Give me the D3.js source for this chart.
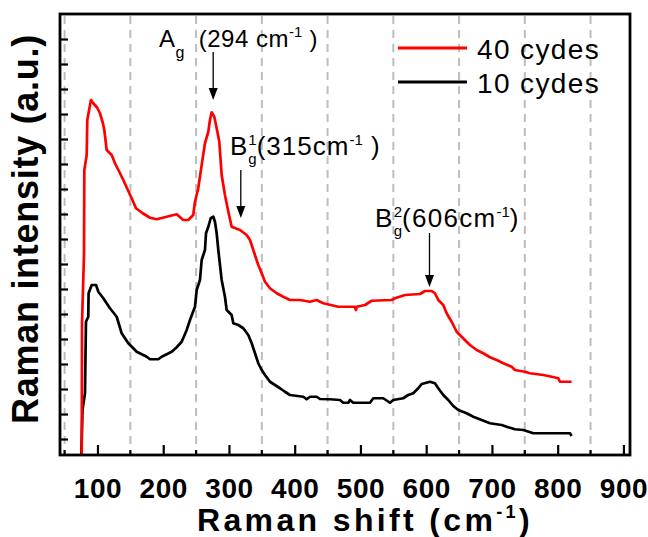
<!DOCTYPE html>
<html>
<head>
<meta charset="utf-8">
<script src="https://cdn.jsdelivr.net/npm/d3@7"></script>
<style>
  body { margin: 0; background: #fff; }
  text { font-family: "Liberation Sans", Arial, sans-serif; }
</style>
</head>
<body>
<svg id="chart" width="648" height="537"></svg>
<script>
// Raman spectra, 40 deposition cycles
const shift40 = [76.0, 76.5, 79.5, 80.0, 83.6, 84.5, 90.1, 93.6, 99.7, 103.8, 107.9, 110.4, 114.0, 121.6, 126.6,
  133.2, 139.3, 146.9, 152.0, 158.6, 168.8, 179.9, 190.1, 205.3, 220.5, 230.5, 238.1, 245.7, 248.3, 253.3,
  258.5, 263.5, 268.6, 271.1, 273.7, 277.7, 281.3, 285.3, 288.9, 293.9, 298.5, 304.1, 316.8, 326.9, 332.0,
  337.0, 344.6, 349.8, 354.8, 362.4, 372.6, 382.6, 392.8, 408.0, 423.2, 433.4, 443.5, 466.3, 491.7, 493.2,
  494.3, 506.9, 517.1, 547.5, 552.5, 567.7, 590.5, 598.1, 608.3, 613.3, 618.4, 626.0, 631.1, 638.7, 646.3,
  653.9, 666.6, 676.8, 686.8, 697.0, 707.2, 717.2, 730.0, 735.0, 750.2, 757.8, 778.1, 790.8, 800.9, 803.5, 821.2];
const int40 = [-0.64, 4.64, 7.36, 10.76, 11.36, 12.76, 13.56, 13.43, 13.25, 13.03, 12.67, 12.36, 11.56, 11.36, 11.03,
  10.69, 10.36, 9.92, 9.63, 9.23, 9.03, 8.85, 8.79, 8.89, 8.99, 8.76, 8.76, 8.96, 9.49, 10.03,
  10.96, 11.83, 12.29, 12.76, 13.07, 12.89, 12.43, 11.89, 10.56, 9.76, 9.16, 8.49, 8.36, 8.16, 7.96,
  7.56, 6.96, 6.63, 6.29, 6.03, 5.83, 5.69, 5.56, 5.56, 5.49, 5.56, 5.43, 5.29, 5.29, 5.16,
  5.29, 5.36, 5.53, 5.56, 5.63, 5.76, 5.80, 5.92, 5.92, 5.83, 5.56, 5.36, 5.03, 4.69, 4.29,
  4.09, 3.76, 3.56, 3.43, 3.27, 3.16, 3.03, 2.89, 2.76, 2.69, 2.63, 2.56, 2.49, 2.43, 2.29, 2.29];

// Raman spectra, 10 deposition cycles
const shift10 = [75.5, 77.2, 81.0, 82.5, 86.0, 86.5, 91.2, 97.8, 101.3, 108.9, 119.0, 129.2, 136.8, 146.9, 159.7,
  174.9, 179.9, 192.5, 197.7, 212.9, 220.5, 228.1, 235.7, 240.7, 248.3, 250.9, 255.9, 258.5, 263.5, 265.1,
  268.6, 272.2, 276.2, 278.7, 281.3, 283.8, 288.9, 293.9, 296.5, 304.1, 306.6, 314.2, 321.8, 329.4, 334.6,
  339.6, 344.6, 349.8, 354.8, 362.4, 370.0, 377.6, 385.2, 392.8, 413.0, 418.2, 423.2, 433.4, 438.4, 453.6,
  468.9, 473.9, 481.5, 484.1, 489.1, 514.5, 519.5, 534.7, 544.9, 549.9, 565.1, 572.7, 580.3, 587.9, 593.1,
  605.7, 613.3, 618.4, 626.0, 633.6, 641.2, 648.8, 661.5, 671.6, 684.4, 697.0, 714.8, 722.4, 735.0, 747.7,
  762.9, 818.7, 821.2];
const int10 = [-0.64, 1.16, 1.83, 4.69, 4.89, 5.83, 6.16, 6.16, 5.89, 5.63, 5.23, 4.89, 4.23, 3.83, 3.49,
  3.29, 3.19, 3.19, 3.29, 3.49, 3.67, 3.89, 4.36, 4.76, 5.29, 5.96, 6.36, 7.16, 7.56, 8.23,
  8.49, 8.83, 8.89, 8.69, 8.23, 7.56, 6.36, 5.69, 5.16, 4.96, 4.63, 4.56, 4.43, 4.16, 3.83,
  3.43, 3.03, 2.76, 2.56, 2.29, 2.16, 2.03, 1.89, 1.76, 1.69, 1.59, 1.69, 1.69, 1.60, 1.59,
  1.56, 1.45, 1.45, 1.56, 1.45, 1.45, 1.63, 1.63, 1.45, 1.56, 1.63, 1.76, 1.83, 2.03, 2.20,
  2.29, 2.23, 2.03, 1.76, 1.56, 1.32, 1.16, 1.03, 0.89, 0.76, 0.63, 0.56, 0.49, 0.39, 0.36,
  0.23, 0.23, 0.12];

const seriesNames = ["40 cydes", "10 cydes"];
const seriesColors = ["#ff0000", "#000000"];

const xMajorTicks = [100, 200, 300, 400, 500, 600, 700, 800, 900];
const xMinorTicks = [50, 150, 250, 350, 450, 550, 650, 750, 850];
const yTicks = d3.range(0, 17);

// Peak annotations: arrow position (shift), arrow top / tip (intensity)
const peakShift = [276, 318, 605];
const peakArrowTop = [15.48, 10.76, 8.24];
const peakArrowTip = [13.56, 8.84, 6.08];

const svg = d3.select("#chart");
const W = 648, H = 537;
const m = { left: 60, right: 18, top: 14, bottom: 82 };

const x = d3.scaleLinear().domain([43, 910]).range([m.left, W - m.right]);
const y = d3.scaleLinear().domain([-0.64, 17]).range([H - m.bottom, m.top]);

const x0 = m.left, x1 = W - m.right, y0 = H - m.bottom, y1 = m.top;

// spread a text's letters so that it spans a given width
function fitWidth(sel, target) {
  const node = sel.node();
  const w = node.getComputedTextLength();
  const n = node.textContent.length;
  sel.attr("letter-spacing", (target - w) / n);
}

// dashed vertical grid
svg.append("g").selectAll("line").data(xMinorTicks).join("line")
  .attr("x1", d => x(d)).attr("x2", d => x(d))
  .attr("y1", y1 + 2).attr("y2", y0)
  .attr("stroke", "#bdbdbd").attr("stroke-width", 2)
  .attr("stroke-dasharray", "8,6");

svg.append("defs").append("clipPath").attr("id", "plotClip")
  .append("rect").attr("x", x0).attr("y", y1).attr("width", x1 - x0).attr("height", y0 - y1);

const line = d3.line().x(d => x(d[0])).y(d => y(d[1]));
const plot = svg.append("g").attr("clip-path", "url(#plotClip)");
plot.append("path").datum(d3.zip(shift10, int10))
  .attr("d", line).attr("fill", "none").attr("stroke", seriesColors[1])
  .attr("stroke-width", 2.7).attr("stroke-linejoin", "round");
plot.append("path").datum(d3.zip(shift40, int40))
  .attr("d", line).attr("fill", "none").attr("stroke", seriesColors[0])
  .attr("stroke-width", 2.7).attr("stroke-linejoin", "round");

// axes with inward ticks
const xAxis = d3.axisBottom(x).tickValues(xMajorTicks).tickSizeInner(-10).tickSizeOuter(0).tickPadding(23);
const gx = svg.append("g").attr("transform", `translate(0,${y0})`).call(xAxis);
gx.select(".domain").remove();
gx.selectAll(".tick line").attr("stroke", "#000").attr("stroke-width", 2.2);
gx.selectAll(".tick text").attr("font-size", 28).attr("font-weight", "bold")
  .attr("font-family", "'Liberation Sans', Arial, sans-serif").attr("fill", "#000")
  .attr("letter-spacing", 0.5);

svg.append("g").selectAll("line").data(xMinorTicks).join("line")
  .attr("x1", d => x(d)).attr("x2", d => x(d))
  .attr("y1", y0).attr("y2", y0 - 5)
  .attr("stroke", "#000").attr("stroke-width", 2.2);

const yAxis = d3.axisLeft(y).tickValues(yTicks).tickSizeInner(-8).tickSizeOuter(0).tickFormat("");
const gy = svg.append("g").attr("transform", `translate(${x0},0)`).call(yAxis);
gy.select(".domain").remove();
gy.selectAll(".tick line").attr("stroke", "#000").attr("stroke-width", 2.2);

// frame
svg.append("rect").attr("x", x0).attr("y", y1).attr("width", x1 - x0).attr("height", y0 - y1)
  .attr("fill", "none").attr("stroke", "#000").attr("stroke-width", 2.8);

// axis titles
const yt = svg.append("text").attr("transform", "translate(38,229) rotate(-90)")
  .attr("text-anchor", "middle").attr("font-size", 36).attr("font-weight", "bold")
  .text("Raman intensity (a.u.)");
fitWidth(yt, 390);

const xt = svg.append("text").attr("x", 197).attr("y", 531)
  .attr("font-size", 32).attr("font-weight", "bold");
xt.append("tspan").text("Raman shift (cm");
xt.append("tspan").attr("font-size", 18).attr("dy", -13).text("-1");
xt.append("tspan").attr("dy", 13).text(")");
fitWidth(xt, 336);

// legend
const legY = [48, 82];
seriesNames.forEach((name, i) => {
  svg.append("line").attr("x1", 398).attr("x2", 467).attr("y1", legY[i]).attr("y2", legY[i])
    .attr("stroke", seriesColors[i]).attr("stroke-width", 3);
  const t = svg.append("text").attr("x", 477).attr("y", legY[i] + 11).attr("font-size", 28)
    .text(name);
  fitWidth(t, 123);
});

// rich text: sequence of pieces, optional stacking of sub/superscripts
function rich(xStart, yBase, size, spacing, parts) {
  let cx = xStart, lastStart = xStart;
  const g = svg.append("g");
  parts.forEach(p => {
    const fs = p.size || size;
    const sx = p.stack ? lastStart : cx;
    const t = g.append("text").attr("x", sx).attr("y", yBase + (p.dy || 0))
      .attr("font-size", fs).attr("letter-spacing", p.size ? 0 : spacing)
      .style("white-space", "pre").text(p.t);
    const w = t.node().getComputedTextLength();
    if (p.stack) cx = Math.max(cx, sx + w);
    else { lastStart = sx; cx = sx + w; }
  });
}

rich(159, 47, 24, 0.5, [
  { t: "A" }, { t: "g", size: 16, dy: 11 }, { t: "  (294 cm" },
  { t: "-1", size: 15, dy: -10 }, { t: " )" }
]);
rich(230, 155, 26, 1, [
  { t: "B" }, { t: "1", size: 15, dy: -10 }, { t: "g", size: 15, dy: 9, stack: true },
  { t: "(315cm" }, { t: "-1", size: 15, dy: -10 }, { t: " )" }
]);
rich(375, 227, 26, 1.3, [
  { t: "B" }, { t: "2", size: 15, dy: -10 }, { t: "g", size: 15, dy: 9, stack: true },
  { t: "(606cm" }, { t: "-1", size: 15, dy: -10 }, { t: ")" }
]);

// arrows
peakShift.forEach((s, i) => {
  const ax = x(s), ya = y(peakArrowTop[i]), yb = y(peakArrowTip[i]);
  svg.append("line").attr("x1", ax).attr("x2", ax).attr("y1", ya).attr("y2", yb - 10)
    .attr("stroke", "#000").attr("stroke-width", 1.3);
  svg.append("path").attr("d", `M${ax - 4.5},${yb - 12} L${ax + 4.5},${yb - 12} L${ax},${yb} Z`)
    .attr("fill", "#000");
});
</script>
</body>
</html>
